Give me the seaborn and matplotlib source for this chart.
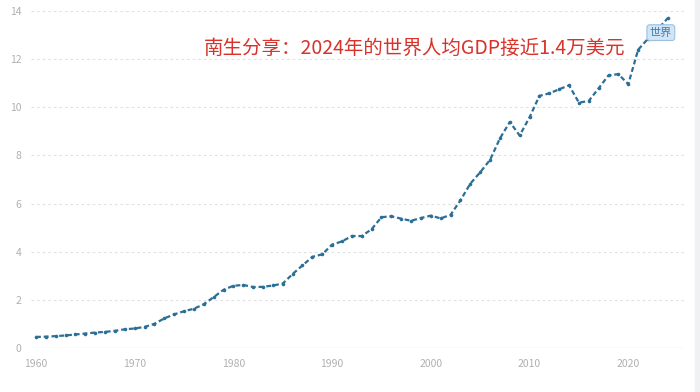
import seaborn as sns
import matplotlib.pyplot as plt
import pandas as pd
from matplotlib.patches import Rectangle

# world GDP per capita, thousand US$
years = list(range(1960, 2025))
gdp_pc = [0.459, 0.472, 0.494, 0.522, 0.562, 0.602, 0.642, 0.670, 0.713, 0.778,
          0.812, 0.876, 1.004, 1.230, 1.398, 1.527, 1.632, 1.818, 2.114, 2.418,
          2.586, 2.619, 2.534, 2.541, 2.597, 2.676, 3.074, 3.431, 3.787, 3.891,
          4.297, 4.428, 4.652, 4.650, 4.935, 5.434, 5.473, 5.373, 5.284, 5.400,
          5.499, 5.384, 5.532, 6.134, 6.828, 7.299, 7.816, 8.707, 9.388, 8.829,
          9.583, 10.474, 10.578, 10.747, 10.912, 10.193, 10.262, 10.790, 11.327, 11.376,
          10.959, 12.390, 12.850, 13.250, 13.700]
y_ticks = [0, 2, 4, 6, 8, 10, 12, 14]
x_ticks = [1960, 1970, 1980, 1990, 2000, 2010, 2020]
title = "南生分享：2024年的世界人均GDP接近1.4万美元"
series_label = "世界"

df = pd.DataFrame({"year": years, "gdp": gdp_pc})

sns.set_style("white")
plt.rcParams['font.family'] = ['Noto Sans CJK SC', 'DejaVu Sans']

fig = plt.figure(figsize=(7, 3.92), dpi=100)
ax = fig.add_axes([0.0443, 0.1122, 0.9329, 0.8598])

line_color = "#2b6f96"
sns.lineplot(data=df, x="year", y="gdp", ax=ax, color=line_color,
             linewidth=1.6, linestyle=(0, (2.2, 1.3)),
             marker="o", markersize=2.6, markeredgewidth=0)

ax.set_xlim(1959.5, 2025.65)
ax.set_ylim(0, 14)
ax.set_xticks(x_ticks)
ax.set_yticks(y_ticks)
ax.set_xlabel("")
ax.set_ylabel("")

for v in y_ticks[1:]:
    ax.axhline(v, color="#e2e2e2", linewidth=0.8, linestyle=(0, (2.5, 2.5)), zorder=0)
ax.axhline(0, color="#e6e6e6", linewidth=1.0, zorder=0)

for side in ["top", "right", "left", "bottom"]:
    ax.spines[side].set_visible(False)

ax.tick_params(axis="y", length=0, pad=7, labelsize=7.5, labelcolor="#b0b0b0")
ax.tick_params(axis="x", length=3, width=0.8, color="#d6d6d6", pad=5,
               labelsize=7.5, labelcolor="#b0b0b0")

ax.text(1977.0, 12.45, title, color="#d8322a", fontsize=14,
        ha="left", va="center")

ax.annotate(series_label, xy=(2023.3, 13.1), ha="center", va="center",
            fontsize=8, color="#3b7cb3",
            bbox=dict(boxstyle="round,pad=0.25", fc="#d3e4f4", ec="#9cc1e0", lw=0.8))

fig.patches.append(Rectangle((695 / 700, 0), 5 / 700, 1, transform=fig.transFigure,
                             color="#f0f1f5", zorder=-1))

plt.savefig("out.png", dpi=100)
plt.close()
